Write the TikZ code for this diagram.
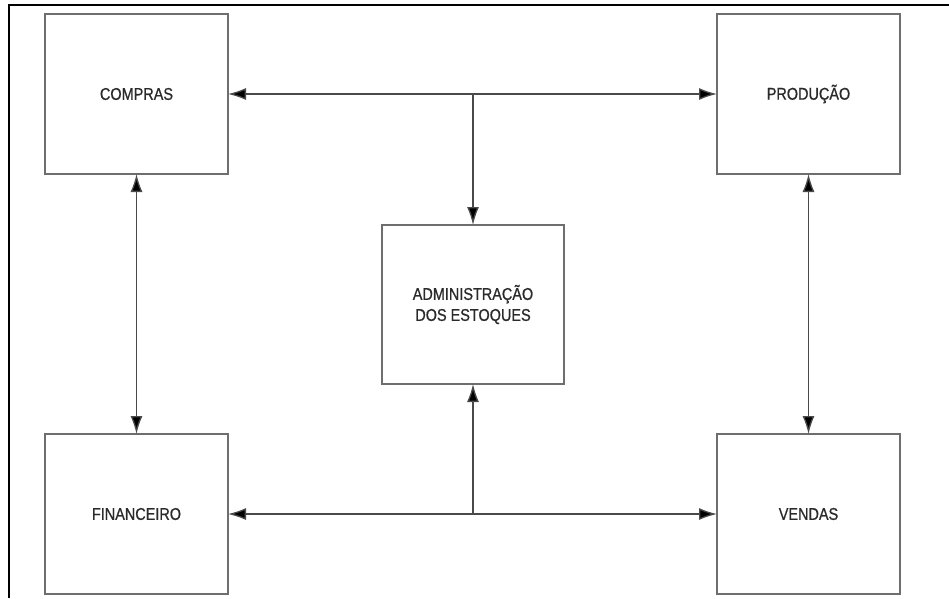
\documentclass[tikz,border=0pt]{standalone}
\usepackage{fontspec}
\setmainfont{Liberation Sans}[FakeStretch=0.85,FakeBold=0.7]
\usetikzlibrary{arrows.meta,positioning}
\definecolor{boxgray}{HTML}{6E6E6E}
\definecolor{linegray}{HTML}{4A4A4A}
\definecolor{textgray}{HTML}{2A2A2A}
\tikzset{
  area/.style={draw=boxgray, line width=1.6pt, fill=white, minimum width=183pt,
    minimum height=160pt, inner sep=0pt, outer sep=0pt, text=textgray,
    font=\fontsize{17}{21}\selectfont, align=center},
  link/.style={draw=linegray, line width=1.3pt,
    arrows={Latex[length=18pt,width=12pt,fill=black]-Latex[length=18pt,width=12pt,fill=black]}},
  feed/.style={draw=linegray, line width=1.3pt, -{Latex[length=18pt,width=12pt,fill=black]}}
}
\begin{document}
\begin{tikzpicture}[x=1pt,y=-1pt]
\useasboundingbox (0,0) rectangle (949,598);
% frame
\draw [line width=2.4pt] (949,5) -- (9,5) -- (9,598);
% boxes
\node [area] (compras) at (136.5,94) {COMPRAS};
\node [area] (producao) at (808.5,94) {PRODUÇÃO};
\node [area] (financeiro) at (136.5,514) {FINANCEIRO};
\node [area] (vendas) at (808.5,514) {VENDAS};
\node [area, minimum width=182pt, minimum height=159pt] (adm) at (473,304.5) {ADMINISTRAÇÃO\\DOS ESTOQUES};
% connectors
\coordinate (topj) at (adm.north |- compras.east);
\coordinate (botj) at (adm.south |- financeiro.east);
\draw [link] (compras.east) -- (producao.west);
\draw [link] (financeiro.east) -- (vendas.west);
\draw [link] (compras.south) -- (financeiro.north);
\draw [link] (producao.south) -- (vendas.north);
\draw [feed] (topj) -- (adm.north);
\draw [feed] (botj) -- (adm.south);
\end{tikzpicture}
\end{document}
